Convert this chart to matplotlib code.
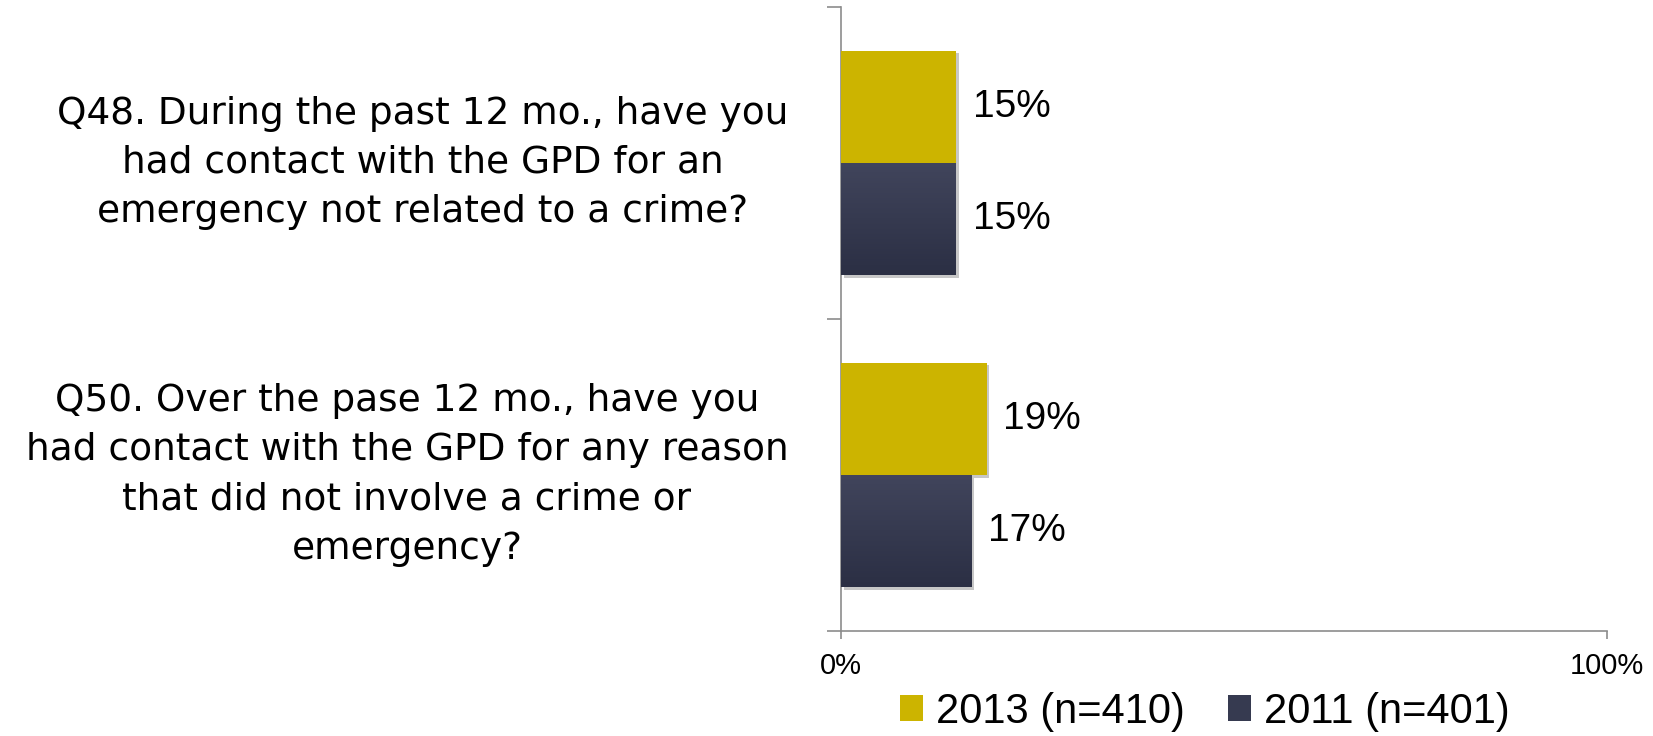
import matplotlib
matplotlib.use("Agg")

import numpy as np
import matplotlib.pyplot as plt
from matplotlib import font_manager, patheffects
from matplotlib.colors import LinearSegmentedColormap
from matplotlib.patches import Patch


questions = [
    "Q48. During the past 12 mo., have you\nhad contact with the GPD for an\nemergency not related to a crime?",
    "Q50. Over the pase 12 mo., have you\nhad contact with the GPD for any reason\nthat did not involve a crime or\nemergency?",
]
series_labels = ["2013 (n=410)", "2011 (n=401)"]
pct_2013 = [15, 19]
pct_2011 = [15, 17]
x_ticks = [0, 100]
x_tick_labels = ["0%", "100%"]

GOLD = "#CCB400"
NAVY_TOP = "#41455C"
NAVY_BOTTOM = "#2B2F44"
AXIS_GRAY = "#8C8C8C"

installed = {f.name for f in font_manager.fontManager.ttflist}
Q_FONT = "DejaVu Sans"
TEXT_FONT = "Liberation Sans" if "Liberation Sans" in installed else "DejaVu Sans"
NUM_FONT = "Liberation Sans Narrow" if "Liberation Sans Narrow" in installed else TEXT_FONT


def main():
    fig = plt.figure(figsize=(16.53, 7.36), dpi=100)
    ax = fig.add_axes([0.5088, 0.1427, 0.4634, 0.8478])

    y = np.arange(len(questions))
    bar_h = 0.36
    shadow = [patheffects.SimplePatchShadow(offset=(2, -2), shadow_rgbFace="black", alpha=0.22),
              patheffects.Normal()]

    bars_2013 = ax.barh(y - bar_h / 2, pct_2013, height=bar_h, color=GOLD, zorder=3)
    bars_2011 = ax.barh(y + bar_h / 2, pct_2011, height=bar_h, color=NAVY_BOTTOM, zorder=3)
    for bar in list(bars_2013) + list(bars_2011):
        bar.set_path_effects(shadow)

    # vertical gradient on the 2011 bars
    cmap = LinearSegmentedColormap.from_list("navy", [NAVY_TOP, NAVY_BOTTOM])
    grad = np.linspace(0, 1, 256).reshape(-1, 1)
    for bar in bars_2011:
        x0, y0 = bar.get_x(), bar.get_y()
        w, h = bar.get_width(), bar.get_height()
        im = ax.imshow(grad, extent=(x0, x0 + w, y0 + h, y0), origin="upper",
                       aspect="auto", cmap=cmap, zorder=3.5, interpolation="bilinear")
        im.set_clip_path(bar)

    # value labels
    for bars, vals in [(bars_2013, pct_2013), (bars_2011, pct_2011)]:
        for bar, v in zip(bars, vals):
            ax.annotate(f"{v}%", xy=(v, bar.get_y() + bar.get_height() / 2),
                        xytext=(12, 0), textcoords="offset points",
                        ha="left", va="center", fontsize=28, family=NUM_FONT)

    # question labels left of the axis
    for yi, q in zip(y, questions):
        ax.annotate(q, xy=(0, yi), xycoords=("axes fraction", "data"),
                    xytext=(-38, 0), textcoords="offset points",
                    ha="right", va="center", multialignment="center",
                    fontsize=27, family=Q_FONT, linespacing=1.47)

    ax.set_xlim(0, 100)
    ax.set_ylim(len(questions) - 0.5, -0.5)

    ax.set_xticks(x_ticks)
    ax.set_xticklabels(x_tick_labels, fontsize=21, family=NUM_FONT)
    ax.set_yticks(np.arange(len(questions) + 1) - 0.5)
    ax.set_yticklabels([])
    ax.tick_params(axis="x", direction="out", length=6, width=1.2, color=AXIS_GRAY, pad=9)
    ax.tick_params(axis="y", direction="out", length=10, width=1.2, color=AXIS_GRAY)

    for side in ["top", "right"]:
        ax.spines[side].set_visible(False)
    for side in ["left", "bottom"]:
        ax.spines[side].set_color(AXIS_GRAY)
        ax.spines[side].set_linewidth(1.2)

    handles = [Patch(facecolor=GOLD), Patch(facecolor="#363A50")]
    fig.legend(handles, series_labels, loc="center", bbox_to_anchor=(0.729, 0.033),
               ncol=2, frameon=False, prop={"family": TEXT_FONT, "size": 30},
               handlelength=0.55, handleheight=0.55, handletextpad=0.3,
               columnspacing=1.05, borderaxespad=0, borderpad=0)

    fig.savefig("out.png", dpi=100, facecolor="white")
    plt.close(fig)


if __name__ == "__main__":
    main()
